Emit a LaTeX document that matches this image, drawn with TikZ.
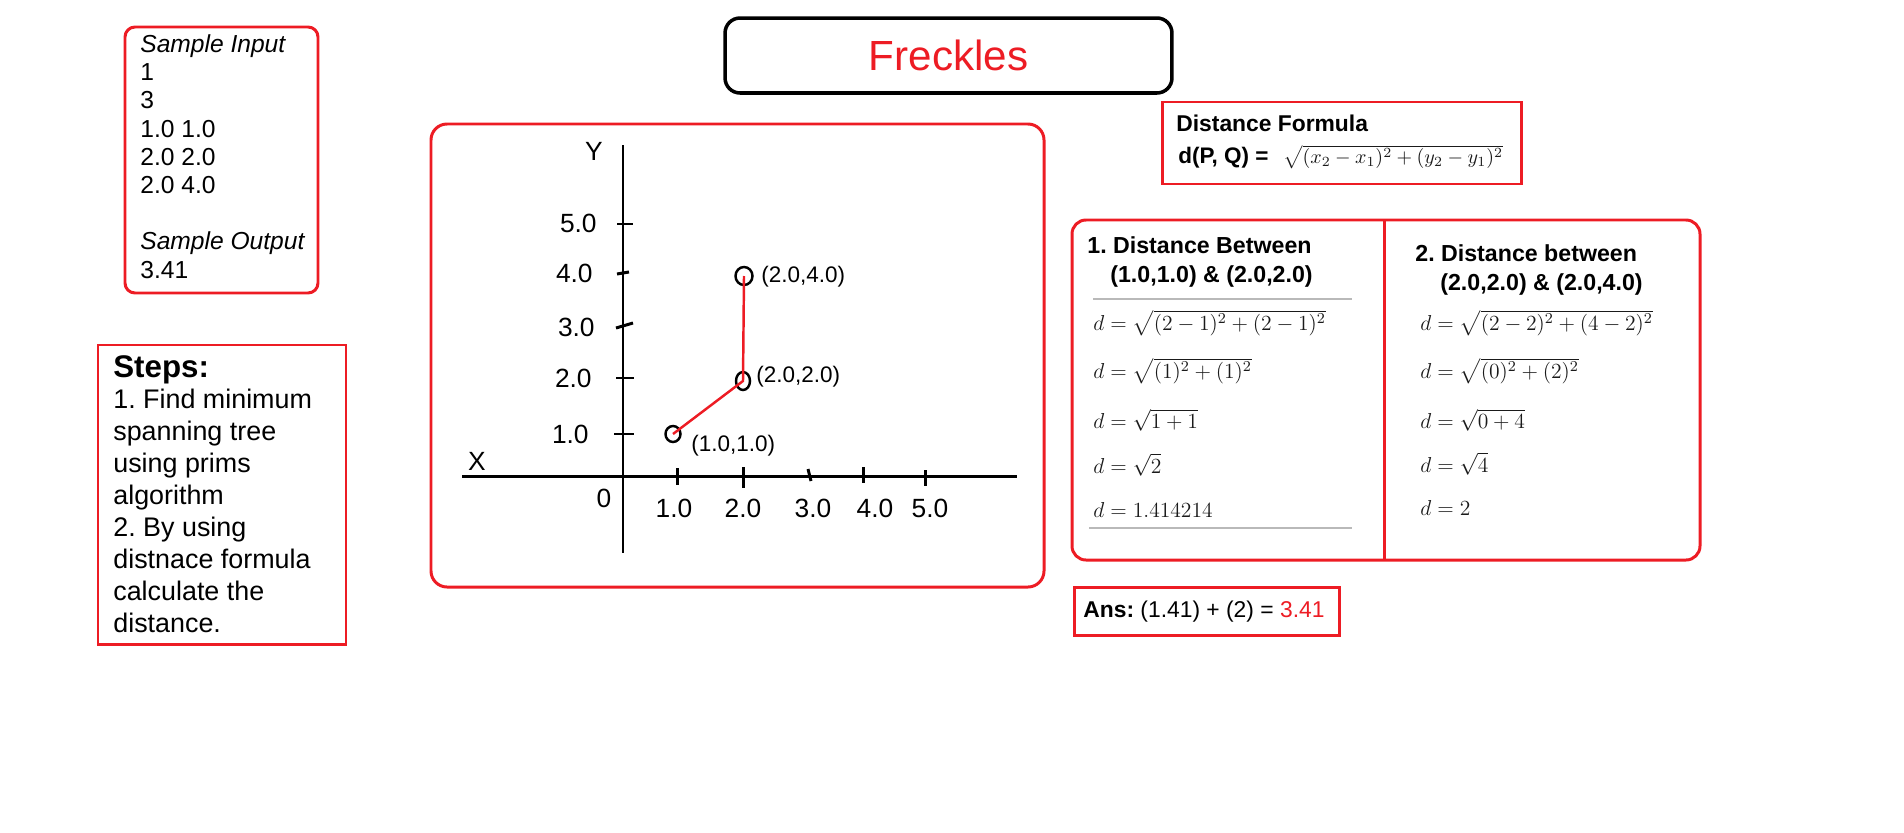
\RequirePackage{fix-cm}
\documentclass[tikz,border=0pt]{standalone}
\usepackage[no-math]{fontspec}
\setmainfont{Liberation Sans}
\usepackage{amsmath}
\usetikzlibrary{shapes.geometric}
\definecolor{paintred}{HTML}{ED1C24}
\definecolor{mathgray}{HTML}{1A1A1A}
\tikzset{
  redbox/.style={draw=paintred, line width=1.7pt},
  txt/.style={inner sep=0pt, anchor=base west, align=left},
  axisline/.style={line width=1.7pt},
  ptmark/.style={draw, ellipse, line width=1.4pt, inner sep=0pt, minimum width=0.3cm, minimum height=0.32cm},
  mstedge/.style={draw=paintred, line width=1.4pt},
  ticklab/.style={inner sep=0pt, font=\fontsize{15}{18}\selectfont},
  ptlab/.style={txt, font=\fontsize{12.8}{15}\selectfont},
  frm/.style={txt, text=mathgray, font=\fontsize{12.3}{15}\selectfont},
  headlab/.style={txt, font=\fontsize{13.2}{16.4}\selectfont\bfseries},
}

\begin{document}
\frenchspacing
\begin{tikzpicture}[x=0.02cm, y=-0.02cm]
\useasboundingbox (0,0) rectangle (1904,832);

% title
\node [draw, line width=2pt, rounded corners=0.3cm, minimum width=8.94cm, minimum height=1.5cm,
       text=paintred, font=\fontsize{24}{28}\selectfont] (title) at (948.5,55.5) {Freckles};

% sample input and output (placed by the baseline of the last line)
\draw [redbox, rounded corners=0.2cm] (125,27) rectangle (318,293);
\node [txt, font=\fontsize{14}{16.05}\selectfont] (sample) at (140,278)
  {\textit{Sample Input}\\1\\3\\1.0 1.0\\2.0 2.0\\2.0 4.0\\[16.05pt]\textit{Sample Output}\\3.41};

% steps
\draw [redbox] (98,345) rectangle (346,644);
\node [txt, font=\fontsize{15.3}{18.14}\selectfont] (steps) at (113,632)
  {{\fontsize{17.8}{20}\selectfont\bfseries Steps:}\\1. Find minimum\\spanning tree\\using prims\\algorithm\\2. By using\\distnace formula\\calculate the\\distance.};

% graph
\draw [redbox, rounded corners=0.32cm] (431,124) rectangle (1044,587);
\draw [axisline] (623,145) -- (623,553);
\draw [axisline] (462,476) -- (1017,476);
% y ticks
\draw [axisline] (617,224) -- (633,224);
\draw [axisline] (617,274) -- (629,272);
\draw [axisline] (616,328) -- (633,323);
\draw [axisline] (616,378) -- (634,378);
\draw [axisline] (614,434) -- (634,434);
% x ticks
\draw [axisline] (677,468) -- (677,485);
\draw [axisline] (743,467) -- (743,488);
\draw [axisline] (808,469) -- (811,481);
\draw [axisline] (863,467) -- (863,483);
\draw [axisline] (925,470) -- (925,486);
\node [ticklab, anchor=base] (ylab) at (594,160) {Y};
\node [ticklab, anchor=base] (xlab) at (477,470) {X};
\node [ticklab, anchor=base] (origin) at (604,507) {0};
\node [ticklab, anchor=base east] (y5) at (597,232) {5.0};
\node [ticklab, anchor=base east] (y4) at (593,282) {4.0};
\node [ticklab, anchor=base east] (y3) at (595,336) {3.0};
\node [ticklab, anchor=base east] (y2) at (592,387) {2.0};
\node [ticklab, anchor=base east] (y1) at (589,443) {1.0};
\node [ticklab, anchor=base] (x1) at (674,517) {1.0};
\node [ticklab, anchor=base] (x2) at (743,517) {2.0};
\node [ticklab, anchor=base] (x3) at (813,517) {3.0};
\node [ticklab, anchor=base] (x4) at (875,517) {4.0};
\node [ticklab, anchor=base] (x5) at (930,517) {5.0};
% points
\node [ptmark] (p1) at (673,434) {};
\node [ptmark, minimum height=0.36cm, minimum width=0.28cm] (p2) at (743,381) {};
\node [ptmark, minimum height=0.36cm, minimum width=0.34cm] (p3) at (744,276) {};
\draw [mstedge] (p1.center) -- (p2.center) -- (p3.center);
\node [ptlab] (p1lab) at (691,451) {(1.0,1.0)};
\node [ptlab] (p2lab) at (756,382) {(2.0,2.0)};
\node [ptlab] (p3lab) at (761,282) {(2.0,4.0)};

% distance formula
\draw [redbox] (1162,102) rectangle (1521,184);
\node [txt, font=\fontsize{13}{16}\selectfont\bfseries] (dfhead) at (1176,131) {Distance Formula};
\node [txt, font=\fontsize{12.8}{16}\selectfont\bfseries] (dflhs) at (1178,163) {d(P, Q) =};
\node [txt, text=mathgray, font=\fontsize{11.4}{14}\selectfont] (dfrhs) at (1283,163) {$\sqrt{(x_2-x_1)^2+(y_2-y_1)^2}$};

% the two distances
\draw [redbox, rounded corners=0.28cm] (1072,220) rectangle (1700,560);
\draw [redbox] (1384,220) -- (1384,560);
\node [headlab] (headA) at (1087,282) {1. Distance Between\\\hspace*{0.46cm}(1.0,1.0) \& (2.0,2.0)};
\draw [gray!55, line width=1pt] (1093,299) -- (1352,299);
\node [frm] (fA1) at (1093,330) {$d=\sqrt{(2-1)^2+(2-1)^2}$};
\node [frm] (fA2) at (1093,378) {$d=\sqrt{(1)^2+(1)^2}$};
\node [frm] (fA3) at (1093,428) {$d=\sqrt{1+1}$};
\node [frm] (fA4) at (1093,473) {$d=\sqrt{2}$};
\node [frm] (fA5) at (1093,517) {$d=1.414214$};
\draw [gray!55, line width=1.3pt] (1089,528) -- (1352,528);

\node [headlab] (headB) at (1415,290) {2. Distance between\\\hspace*{0.5cm}(2.0,2.0) \& (2.0,4.0)};
\node [frm] (fB1) at (1420,330) {$d=\sqrt{(2-2)^2+(4-2)^2}$};
\node [frm] (fB2) at (1420,378) {$d=\sqrt{(0)^2+(2)^2}$};
\node [frm] (fB3) at (1420,428) {$d=\sqrt{0+4}$};
\node [frm] (fB4) at (1420,472) {$d=\sqrt{4}$};
\node [frm] (fB5) at (1420,515) {$d=2$};

% answer
\draw [redbox] (1074,587) rectangle (1339,635);
\node [txt, font=\fontsize{13}{16}\selectfont] (ans) at (1083,617) {\textbf{Ans:} (1.41) + (2) = \textcolor{paintred}{3.41}};
\end{tikzpicture}
\end{document}
